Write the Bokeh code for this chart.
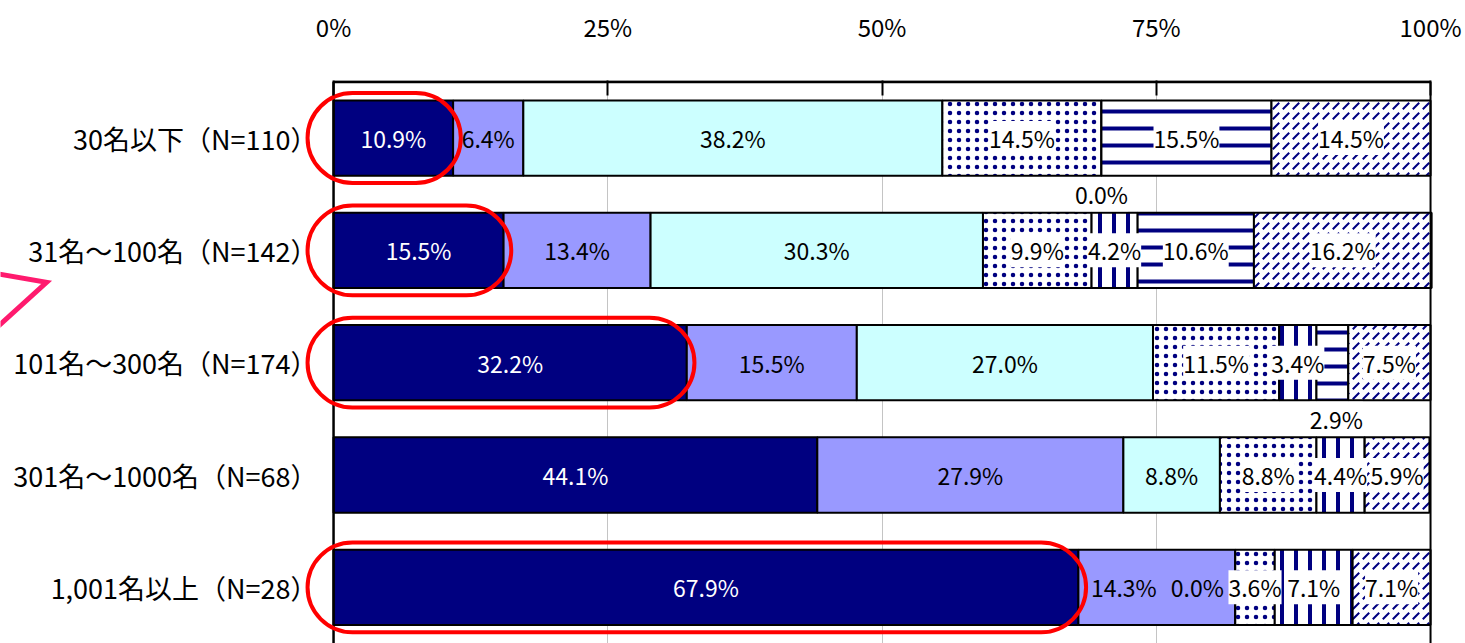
from bokeh.plotting import figure
from bokeh.models import (Range1d, FixedTicker, PrintfTickFormatter, ColumnDataSource, LabelSet)
from bokeh.core.properties import value
from bokeh.embed import file_html
from bokeh.resources import INLINE

# ---------------- data ----------------
categories = ["30名以下（N=110）", "31名～100名（N=142）", "101名～300名（N=174）",
              "301名～1000名（N=68）", "1,001名以上（N=28）"]
s1 = [10.9, 15.5, 32.2, 44.1, 67.9]
s2 = [6.4, 13.4, 15.5, 27.9, 14.3]
s3 = [38.2, 30.3, 27.0, 8.8, 0.0]
s4 = [14.5, 9.9, 11.5, 8.8, 3.6]
s5 = [0.0, 4.2, 3.4, 4.4, 7.1]
s6 = [15.5, 10.6, 2.9, 0.0, 0.0]
s7 = [14.5, 16.2, 7.5, 5.9, 7.1]
series = [s1, s2, s3, s4, s5, s6, s7]
highlighted = [True, True, True, False, True]
hidden_labels = [(3, 5), (4, 5)]
x_ticks = [0, 25, 50, 75, 100]

# ---------------- style ----------------
FONT = "Noto Sans CJK JP"
fills = ["#000080", "#9999FF", "#CCFFFF", "white", "white", "white", "white"]
hatches = [None, None, None, "dot", "vertical_line", "horizontal_line", "right_diagonal_dash"]
hscale = [1, 1, 1, 9, 14, 17, 10]
hweight = [1, 1, 1, 0.5, 4, 4, 2]
text_colors = ["white", "black", "black", "black", "black", "black", "black"]
# label placement tweaks: (row, series) -> (below_bar, x_offset_px)
label_moves = {(0, 4): (True, 0), (2, 5): (True, 4), (4, 1): (False, -33), (4, 2): (False, -38)}

N = len(categories)
p = figure(width=1465, height=643, x_range=Range1d(-30.36, 100.27),
           y_range=Range1d(N, -0.012), output_backend="svg", toolbar_location=None,
           x_axis_location="above", y_axis_location=None,
           min_border_left=0, min_border_top=80, min_border_right=32, min_border_bottom=0)
p.outline_line_color = None
p.background_fill_color = "white"

xa = p.xaxis[0]
xa.ticker = FixedTicker(ticks=x_ticks)
xa.formatter = PrintfTickFormatter(format="%d%%")
xa.axis_line_color = None
xa.major_tick_in = 15
xa.major_tick_out = 0
xa.major_tick_line_color = "black"
xa.major_tick_line_width = 2
xa.minor_tick_line_color = None
xa.major_label_text_font = FONT
xa.major_label_text_font_size = "24px"
xa.major_label_text_color = "black"
xa.major_label_standoff = 37

p.xgrid.ticker = FixedTicker(ticks=x_ticks[1:-1])
p.xgrid.grid_line_color = "#C4C4C4"
p.xgrid.grid_line_width = 1
p.ygrid.grid_line_color = None

# ---------------- category labels ----------------
ys = [i + 0.5 for i in range(N)]
p.text(x=[0] * N, y=ys, text=categories, x_offset=-16, text_align="right",
       text_baseline="middle", text_font=value(FONT), text_font_size="27px",
       text_color="black")

# ---------------- bars ----------------
cum = [0.0] * N
lab_plain = dict(x=[], y=[], text=[], color=[], xoff=[])
lab_bg = dict(x=[], y=[], text=[], color=[], xoff=[])
for j, vals in enumerate(series):
    left = cum[:]
    right = [l + v for l, v in zip(left, vals)]
    src = ColumnDataSource(dict(y=ys, left=left, right=right))
    kw = dict(fill_color=fills[j], line_color="black", line_width=2)
    if hatches[j]:
        kw.update(hatch_pattern=hatches[j], hatch_color="#000080",
                  hatch_scale=hscale[j], hatch_weight=hweight[j])
    p.hbar(y="y", left="left", right="right", height=0.67, source=src, **kw)
    for i in range(N):
        if (i, j) in hidden_labels:
            continue
        below, xoff = label_moves.get((i, j), (False, 0))
        d = lab_bg if j >= 3 else lab_plain
        d["x"].append((left[i] + right[i]) / 2)
        d["y"].append(i + 1.0 if below else i + 0.5)
        d["text"].append(f"{vals[i]:.1f}%")
        d["color"].append(text_colors[j])
        d["xoff"].append(xoff)
    cum = right

# frame lines (left base, right edge, top edge)
p.segment(x0=[0], x1=[0], y0=[0], y1=[N], line_color="black", line_width=2.5)
p.segment(x0=[100], x1=[100], y0=[0], y1=[N], line_color="black", line_width=2)
p.segment(x0=[0], x1=[100], y0=[0], y1=[0], line_color="black", line_width=3)

# value labels
for d, bg in ((lab_plain, None), (lab_bg, "white")):
    ls = LabelSet(x="x", y="y", text="text", source=ColumnDataSource(d),
                  text_align="center", text_baseline="middle", text_color="color",
                  x_offset="xoff", text_font=value(FONT), text_font_size="23px",
                  background_fill_color=bg)
    p.add_layout(ls)

# red highlight pills
hl = [i for i in range(N) if highlighted[i]]
p.quad(left=[-2.37] * len(hl), right=[s1[i] + 0.7 for i in hl],
       top=[i + 0.1 for i in hl], bottom=[i + 0.9 for i in hl],
       border_radius=45, fill_alpha=0, line_color="#FF0000", line_width=4)

# pink pointer fragment at the left edge
p.line(x=[-31.27, -26.16, -31.27], y=[1.699, 1.785, 2.239], line_color="#FF1A6E",
       line_width=5, line_join="miter")

open("out.html", "w").write(file_html(p, INLINE))
